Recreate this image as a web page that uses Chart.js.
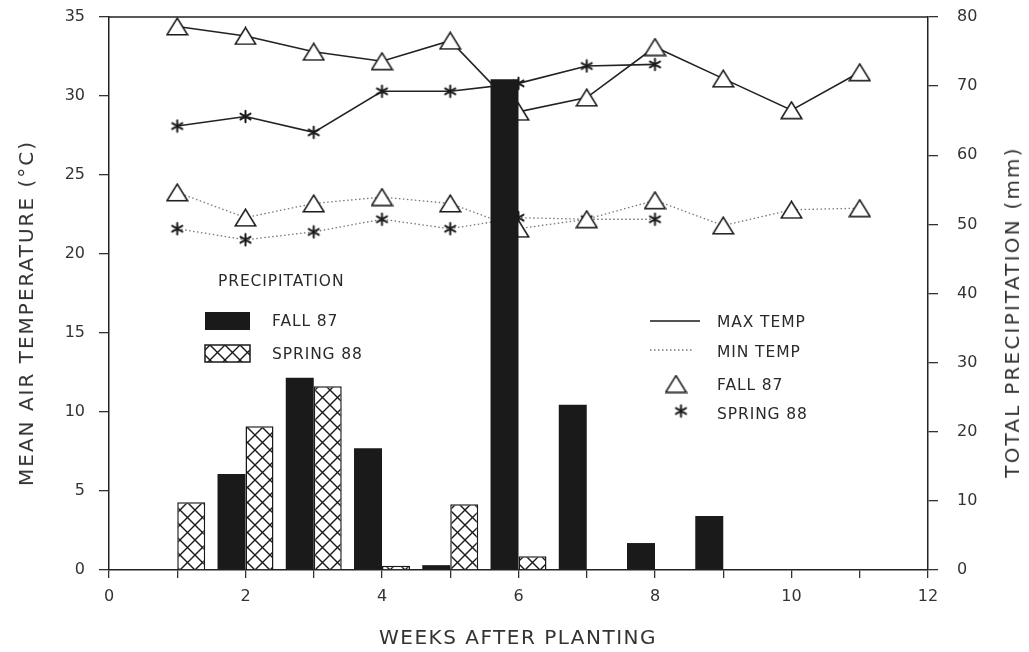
<!DOCTYPE html>
<html><head><meta charset="utf-8">
<script src="https://cdn.jsdelivr.net/npm/chart.js@4.4.1/dist/chart.umd.min.js"></script>
<style>
html,body{margin:0;padding:0;background:#fff;}
#wrap{position:relative;width:1029px;height:652px;overflow:hidden;}
canvas{display:block}
.lg{position:absolute;font-family:"DejaVu Sans",sans-serif;font-size:15.5px;color:#2a2a2a;letter-spacing:0.9px;line-height:1;white-space:nowrap;transform:translateY(-50%);}
.at{position:absolute;font-family:"DejaVu Sans",sans-serif;font-size:20px;color:#333;white-space:nowrap;line-height:1;}
</style></head><body>
<div id="wrap">
<canvas id="c" width="1029" height="652"></canvas>
<div class="lg" style="left:218px;top:282px;">PRECIPITATION</div>
<div class="lg" style="left:272px;top:322px;">FALL 87</div>
<div class="lg" style="left:272px;top:355px;">SPRING 88</div>
<div class="lg" style="left:717px;top:323px;">MAX TEMP</div>
<div class="lg" style="left:717px;top:353px;">MIN TEMP</div>
<div class="lg" style="left:717px;top:386px;">FALL 87</div>
<div class="lg" style="left:717px;top:415px;">SPRING 88</div>
<div class="at" style="left:26px;top:313px;letter-spacing:2px;transform:translate(-50%,-50%) rotate(-90deg);">MEAN AIR TEMPERATURE (°C)</div>
<div class="at" style="left:1012px;top:312px;letter-spacing:2.2px;transform:translate(-50%,-50%) rotate(-90deg);">TOTAL PRECIPITATION (mm)</div>
<div class="at" style="left:518px;top:637px;letter-spacing:1.5px;transform:translate(-50%,-50%);">WEEKS AFTER PLANTING</div>
</div>
<script>
// ---- data ----
const weeks = [1,2,3,4,5,6,7,8,9,10,11];
const springWeeks = [1,2,3,4,5,6,7,8];
const fallMaxTemp = [34.4,33.8,32.8,32.2,33.5,29.0,29.9,33.1,31.1,29.1,31.5];
const springMaxTemp = [28.1,28.7,27.7,30.3,30.3,30.8,31.9,32.0];
const fallMinTemp = [23.9,22.3,23.2,23.6,23.2,21.6,22.2,23.4,21.8,22.8,22.9];
const springMinTemp = [21.6,20.9,21.4,22.2,21.6,22.3,22.2,22.2];
const precipWeeks = [1,2,3,4,5,6,7,8,9];
const fallPrecip = [null,13.9,27.8,17.6,0.7,71.0,23.9,3.9,7.8];
const springPrecip = [9.8,20.8,26.6,0.6,9.5,2.0,null,null,null];
const tempTicks = [0,5,10,15,20,25,30,35];
const precipTicks = [0,10,20,30,40,50,60,70,80];

const pts = (xs, ys) => xs.map((x,i)=>({x:x, y:ys[i]}));
const INK = '#1a1a1a';

const canvas = document.getElementById('c');
const ctx0 = canvas.getContext('2d');
function makeHatch(){
  const s=15, c=document.createElement('canvas'); c.width=s; c.height=s;
  const g=c.getContext('2d');
  g.fillStyle='#fff'; g.fillRect(0,0,s,s);
  g.strokeStyle=INK; g.lineWidth=1.4;
  g.beginPath(); g.moveTo(-1,-1); g.lineTo(s+1,s+1); g.moveTo(s+1,-1); g.lineTo(-1,s+1); g.stroke();
  return ctx0.createPattern(c,'repeat');
}
function makeTriangle(){
  const w=23,h=19,c=document.createElement('canvas'); c.width=w; c.height=h;
  const g=c.getContext('2d'); g.lineWidth=1.6; g.strokeStyle=INK; g.fillStyle='#fff';
  g.beginPath(); g.moveTo(w/2,1.2); g.lineTo(w-1.2,h-1.2); g.lineTo(1.2,h-1.2); g.closePath(); g.fill(); g.stroke();
  return c;
}
function makeStar(){
  const s=15,c=document.createElement('canvas'); c.width=s; c.height=s;
  const g=c.getContext('2d'); g.lineWidth=2; g.strokeStyle=INK; g.lineCap='round';
  const cx=s/2, cy=s/2, r=5.8;
  g.beginPath();
  for(let k=0;k<3;k++){const a=Math.PI/2 + k*Math.PI/3; g.moveTo(cx-r*Math.cos(a), cy-r*Math.sin(a)); g.lineTo(cx+r*Math.cos(a), cy+r*Math.sin(a));}
  g.stroke();
  return c;
}
const hatch = makeHatch();
const triImg = makeTriangle();
const starImg = makeStar();

const legendPlugin = {
  id:'legendMarks',
  afterDraw(chart){
    const ctx=chart.ctx, a=chart.chartArea; ctx.save();
    ctx.strokeStyle='#222'; ctx.lineWidth=1.5;
    ctx.beginPath(); ctx.moveTo(a.left, a.top); ctx.lineTo(a.right, a.top); ctx.stroke();
    ctx.fillStyle=INK; ctx.fillRect(205,312,45,18);
    ctx.fillStyle=hatch; ctx.fillRect(205,345,45,17);
    ctx.strokeStyle=INK; ctx.lineWidth=1.5; ctx.strokeRect(205,345,45,17);
    ctx.beginPath(); ctx.moveTo(650,321); ctx.lineTo(700,321); ctx.lineWidth=1.5; ctx.stroke();
    ctx.setLineDash([1.5,2.5]); ctx.strokeStyle='#777'; ctx.lineWidth=1.3;
    ctx.beginPath(); ctx.moveTo(650,350); ctx.lineTo(694,350); ctx.stroke();
    ctx.setLineDash([]);
    ctx.drawImage(triImg, 676-triImg.width/2, 384-triImg.height/2);
    ctx.drawImage(starImg, 681-starImg.width/2, 411-starImg.height/2);
    ctx.restore();
  }
};

const tickFont = {family:'"DejaVu Sans", sans-serif', size:16};
const fitV = w => s => { s.width = w; s.paddingTop = 0; s.paddingBottom = 0; };
const chart = new Chart(canvas, {
  type:'bar',
  data:{
    datasets:[
      {type:'bar', label:'Precip Fall 87', data:pts(precipWeeks,fallPrecip), yAxisID:'y2', backgroundColor:INK, borderColor:INK, borderWidth:0, order:0, barPercentage:1.0, categoryPercentage:0.82},
      {type:'bar', label:'Precip Spring 88', data:pts(precipWeeks,springPrecip), yAxisID:'y2', backgroundColor:hatch, borderColor:INK, borderWidth:1.5, order:0, barPercentage:1.0, categoryPercentage:0.82},
      {type:'line', label:'Max Fall 87', data:pts(weeks,fallMaxTemp), yAxisID:'y', borderColor:'#222', borderWidth:1.6, pointStyle:triImg, order:1, tension:0},
      {type:'line', label:'Max Spring 88', data:pts(springWeeks,springMaxTemp), yAxisID:'y', borderColor:'#222', borderWidth:1.6, pointStyle:starImg, order:1, tension:0},
      {type:'line', label:'Min Fall 87', data:pts(weeks,fallMinTemp), yAxisID:'y', borderColor:'#777', borderWidth:1.3, borderDash:[1.5,2.5], pointStyle:triImg, order:1, tension:0},
      {type:'line', label:'Min Spring 88', data:pts(springWeeks,springMinTemp), yAxisID:'y', borderColor:'#777', borderWidth:1.3, borderDash:[1.5,2.5], pointStyle:starImg, order:1, tension:0}
    ]
  },
  options:{
    responsive:false, animation:false, devicePixelRatio:1,
    layout:{padding:{top:17,left:0,right:0,bottom:0}},
    plugins:{legend:{display:false}, tooltip:{enabled:false}},
    scales:{
      x:{type:'linear', position:'bottom', min:0, max:12, offset:false,
         afterFit:s=>{s.height=82; s.paddingLeft=0; s.paddingRight=0;},
         ticks:{stepSize:1, autoSkip:false, maxRotation:0, font:tickFont, color:'#333', padding:9,
           callback:v=> (v%2===0 ? String(v) : '')},
         grid:{offset:false, drawOnChartArea:false, drawTicks:true, tickLength:8, color:'#333', lineWidth:1.3},
         border:{display:true, color:'#222', width:1.5}},
      y:{type:'linear', position:'left', min:0, max:35,
         afterFit:fitV(109),
         afterBuildTicks:s=>{s.ticks=tempTicks.map(v=>({value:v}));},
         ticks:{font:tickFont, color:'#333', padding:14},
         grid:{drawOnChartArea:false, drawTicks:true, tickLength:10, color:'#333', lineWidth:1.3},
         border:{display:true, color:'#222', width:1.5}},
      y2:{type:'linear', position:'right', min:0, max:80,
         afterFit:fitV(101),
         afterBuildTicks:s=>{s.ticks=precipTicks.map(v=>({value:v}));},
         ticks:{font:tickFont, color:'#333', padding:19},
         grid:{drawOnChartArea:false, drawTicks:true, tickLength:10, color:'#333', lineWidth:1.3},
         border:{display:true, color:'#222', width:1.5}}
    }
  },
  plugins:[legendPlugin]
});
// keep the plot's top edge at y=17
const diff = Math.round(chart.chartArea.top - 17);
if (diff !== 0) {
  chart.config.options.layout.padding.top = Math.max(0, 17 - diff);
  chart.update();
}
</script>
</body></html>
